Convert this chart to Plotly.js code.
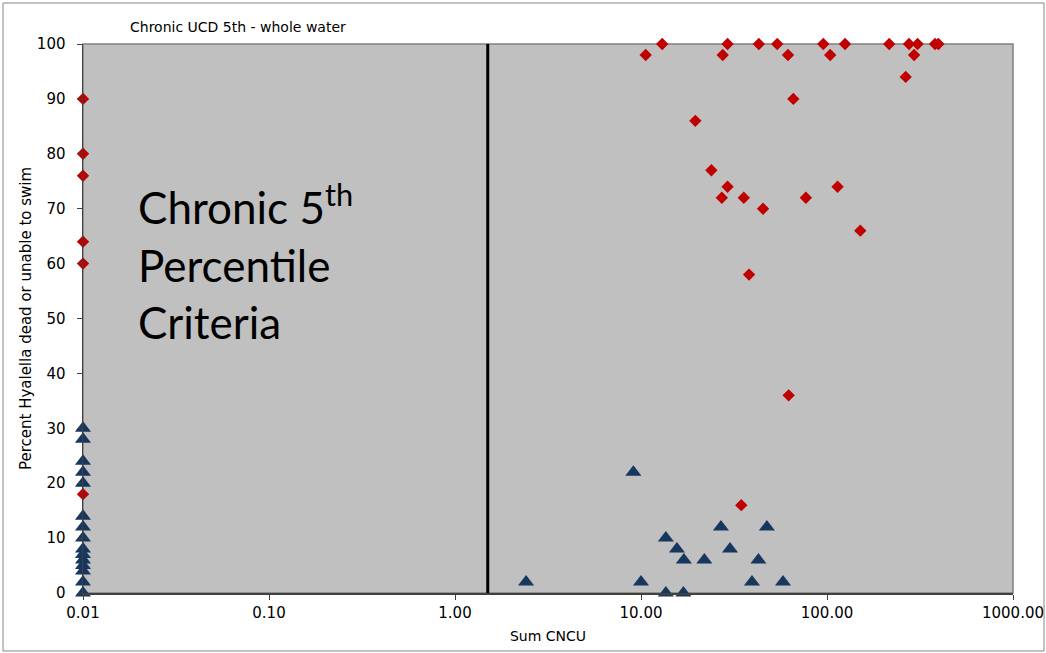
<!DOCTYPE html>
<html>
<head>
<meta charset="utf-8">
<script src="https://cdn.plot.ly/plotly-3.0.1.min.js"></script>
<style>
  html, body { margin: 0; padding: 0; background: #ffffff; }
  #chart { width: 1046px; height: 653px; }
</style>
</head>
<body>
<div id="chart"></div>
<script>
// ---- Data ----
// Red diamonds: Hyalella dead or unable to swim (effect)
const redX = [0.01, 0.01, 0.01, 0.01, 0.01, 0.01,
  10.6, 13.0, 27.5, 29.2, 43, 54, 61.7, 95.5, 104, 125, 216, 276, 294, 307, 265, 381, 397,
  65.9, 19.6, 23.9, 29.2, 27.2, 35.7, 45.3, 77, 114, 151, 38.1, 62.2, 34.6];
const redY = [90, 80, 76, 64, 60, 18,
  98, 100, 98, 100, 100, 100, 98, 100, 98, 100, 100, 100, 98, 100, 94, 100, 100,
  90, 86, 77, 74, 72, 72, 70, 72, 74, 66, 58, 36, 16];

// Blue triangles: no effect
const blueX = [0.01, 0.01, 0.01, 0.01, 0.01, 0.01, 0.01, 0.01, 0.01, 0.01, 0.01, 0.01, 0.01, 0.01, 0.01,
  2.41, 9.1, 10.0, 13.6, 15.6, 17.0, 13.6, 16.9, 21.9, 26.9, 30.1, 39.5, 42.8, 47.5, 58];
const blueY = [30, 28, 24, 22, 20, 14, 12, 10, 8, 7, 6, 5, 4, 2, 0,
  2, 22, 2, 10, 8, 6, 0, 0, 6, 12, 8, 2, 6, 12, 2];

// Criterion line (Chronic 5th percentile)
const criterionX = [1.5, 1.5];
const criterionY = [0, 100];

// Axis ticks
const xTickVals = [0.01, 0.1, 1, 10, 100, 1000];
const xTickText = ["0.01", "0.10", "1.00", "10.00", "100.00", "1000.00"];
const yTickVals = [0, 10, 20, 30, 40, 50, 60, 70, 80, 90, 100];

const traces = [
  {
    x: criterionX, y: criterionY, type: 'scatter', mode: 'lines',
    line: { color: '#000000', width: 3 }, hoverinfo: 'skip', showlegend: false
  },
  {
    x: blueX, y: blueY, type: 'scatter', mode: 'markers', name: 'No effect',
    marker: { symbol: 'triangle-up', size: 14, color: '#17375E' },
    cliponaxis: false, showlegend: false
  },
  {
    x: redX, y: redY, type: 'scatter', mode: 'markers', name: 'Effect',
    marker: { symbol: 'diamond', size: 9.5, color: '#C00000' },
    cliponaxis: false, showlegend: false
  }
];

const L = 83, R = 1013, T = 44, B = 593;
const pw = R - L, ph = B - T;
const px = v => (v - L) / pw;
const py = v => (B - v) / ph;

const layout = {
  width: 1046, height: 653,
  margin: { l: L, r: 1046 - R, t: T, b: 653 - B, pad: 0 },
  paper_bgcolor: '#ffffff',
  plot_bgcolor: '#C0C0C0',
  font: { family: 'DejaVu Sans, sans-serif', color: '#000000' },
  title: {
    text: 'Chronic UCD 5th - whole water',
    font: { family: 'DejaVu Sans, sans-serif', size: 14, color: '#000000' },
    xref: 'container', x: 130 / 1046, xanchor: 'left',
    yref: 'container', y: 1 - 27 / 653, yanchor: 'middle'
  },
  xaxis: {
    type: 'log', range: [-2, 3],
    tickvals: xTickVals, ticktext: xTickText,
    ticks: 'outside', ticklen: 5, tickcolor: '#404040',
    tickfont: { family: 'DejaVu Sans, sans-serif', size: 15, color: '#000000' },
    showgrid: false, zeroline: false,
    showline: true, linecolor: '#404040', linewidth: 1.5,
    title: { text: 'Sum CNCU', font: { family: 'DejaVu Sans, sans-serif', size: 14, color: '#000000' }, standoff: 10 }
  },
  yaxis: {
    range: [0, 100],
    tickvals: yTickVals,
    ticks: 'outside', ticklen: 5, tickcolor: '#404040',
    ticklabelstandoff: 8,
    tickfont: { family: 'DejaVu Sans, sans-serif', size: 15, color: '#000000' },
    showgrid: false, zeroline: false,
    showline: true, linecolor: '#404040', linewidth: 1.5,
    title: { text: 'Percent Hyalella dead or unable to swim', font: { family: 'DejaVu Sans, sans-serif', size: 15, color: '#000000' }, standoff: 1 }
  },
  shapes: [
    { type: 'rect', xref: 'paper', yref: 'paper', x0: 0, x1: 1, y0: 0, y1: 1,
      line: { color: '#808080', width: 1.5 }, fillcolor: 'rgba(0,0,0,0)', layer: 'below' },
    { type: 'rect', xref: 'paper', yref: 'paper', x0: px(3), x1: px(1044), y0: py(651), y1: py(3),
      line: { color: '#868686', width: 1 }, fillcolor: 'rgba(0,0,0,0)', layer: 'below' }
  ],
  annotations: [
    {
      text: 'Chronic 5<sup>th</sup><br>Percentile<br>Criteria',
      xref: 'paper', yref: 'paper', x: px(136), y: py(174),
      xanchor: 'left', yanchor: 'top', align: 'left', showarrow: false,
      font: { family: 'Lato, sans-serif', size: 44, color: '#000000' }
    }
  ],
  showlegend: false
};

Plotly.newPlot('chart', traces, layout, { displayModeBar: false, staticPlot: true });
</script>
</body>
</html>
